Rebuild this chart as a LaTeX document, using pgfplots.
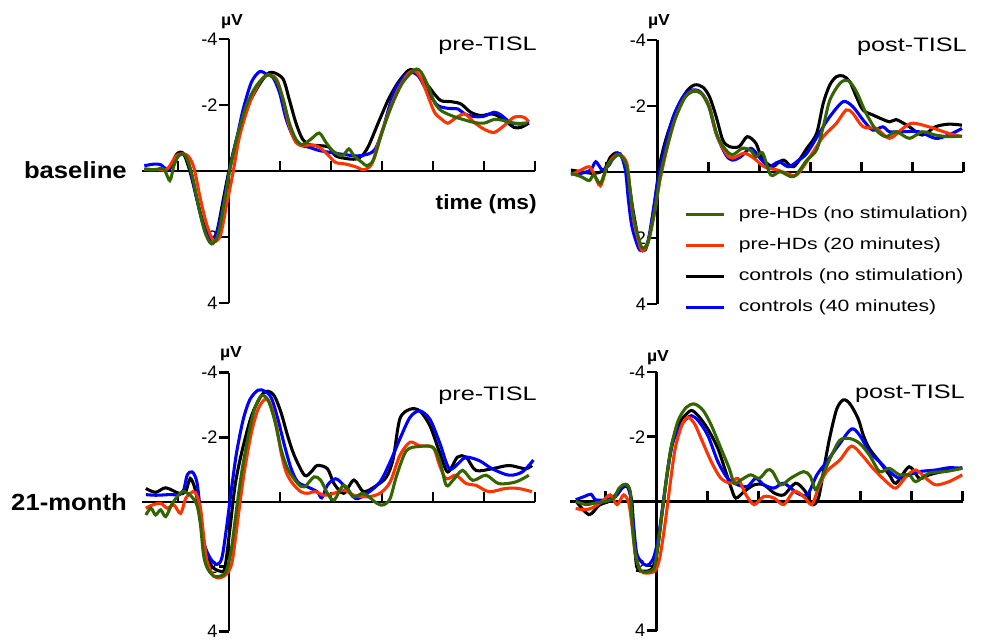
\documentclass[border=0pt]{standalone}
\usepackage{fontspec}
\setmainfont{Liberation Sans}
\newfontfamily\widefont{Liberation Sans}[FakeStretch=1.3]
\newfontfamily\labfont{Liberation Sans}[FakeStretch=1.1]
\usepackage{pgfplots}
\pgfplotsset{compat=1.18}

\newdimen\px \px=0.75pt
\definecolor{cgreen}{RGB}{51,102,0}
\definecolor{cred}{RGB}{255,51,0}
\definecolor{cblue}{RGB}{0,0,255}

\pgfplotsset{
  erp/.style={
    scale only axis, width=294.5pt, height=198pt, anchor=north west,
    xmin=-170, xmax=600, ymin=-4, ymax=4, y dir=reverse,
    axis lines=middle, axis line style={-, line width=2.1pt},
    xtick={-100,100,200,300,400,500,600}, xticklabels={},
    ytick={-4,-2,2,4}, yticklabels={-4,-2,2,4},
    tick style={line width=2.1pt, black},
    tick align=outside, major tick length=7.5pt,
    yticklabel style={font=\fontsize{13.6}{15}\selectfont, inner sep=1pt, text depth=0pt},
    every axis plot/.append style={line width=2.3pt, smooth, tension=0.5},
  },
}

\begin{document}
\begin{tikzpicture}
\useasboundingbox (0,0) rectangle (986\px,-640\px);

% ---------- baseline, pre-TISL ----------
\begin{axis}[erp, at={(142.3\px,-39\px)}]
\addplot[black] coordinates {(-166,-0.06) (-121,-0.06) (-102,-0.52) (-89,-0.52) (-76,0.04) (-63,0.85) (-53,1.45) (-40,2.01) (-34,2.06) (-24,1.86) (-11,0.85) (0,-0.01) (15,-0.97) (34,-1.88) (54,-2.48) (73,-2.91) (86,-2.99) (106,-2.79) (118,-2.18) (131,-1.47) (144,-0.97) (157,-0.80) (177,-0.77) (196,-0.72) (209,-0.46) (229,-0.38) (248,-0.36) (261,-0.46) (274,-0.77) (293,-1.47) (313,-2.18) (332,-2.69) (351,-3.04) (361,-3.06) (371,-2.89) (390,-2.59) (403,-2.33) (416,-2.13) (436,-2.10) (455,-2.03) (474,-1.78) (494,-1.68) (513,-1.73) (526,-1.68) (546,-1.47) (559,-1.32) (572,-1.32) (588,-1.45)};
\addplot[cblue] coordinates {(-166,-0.16) (-147,-0.21) (-134,-0.19) (-121,-0.04) (-111,-0.16) (-98,-0.48) (-85,-0.46) (-76,-0.06) (-63,0.85) (-50,1.66) (-37,2.06) (-27,2.01) (-14,1.25) (0,0.04) (15,-0.97) (28,-1.88) (44,-2.69) (60,-3.01) (73,-2.94) (86,-2.84) (99,-2.38) (112,-1.58) (125,-1.07) (138,-0.80) (157,-0.72) (177,-0.62) (196,-0.57) (216,-0.52) (235,-0.48) (254,-0.46) (274,-0.52) (287,-0.67) (300,-1.17) (313,-1.88) (326,-2.48) (345,-2.89) (358,-2.99) (371,-2.89) (384,-2.54) (397,-2.23) (410,-1.98) (429,-1.90) (449,-1.88) (462,-1.73) (481,-1.65) (500,-1.66) (520,-1.78) (533,-1.70) (552,-1.47) (572,-1.42) (588,-1.47)};
\addplot[cred] coordinates {(-166,-0.04) (-140,-0.04) (-121,-0.06) (-102,-0.48) (-82,-0.48) (-69,-0.11) (-56,0.85) (-43,1.66) (-30,2.11) (-17,1.96) (-5,1.05) (8,0.04) (21,-1.07) (41,-2.08) (60,-2.69) (76,-2.91) (93,-2.79) (106,-2.18) (118,-1.37) (131,-0.87) (144,-0.77) (161,-0.79) (177,-0.72) (196,-0.46) (209,-0.26) (229,-0.21) (248,-0.13) (264,-0.04) (280,-0.21) (293,-0.87) (313,-1.78) (332,-2.48) (351,-2.94) (364,-3.04) (377,-2.79) (390,-2.28) (403,-1.78) (416,-1.58) (429,-1.45) (442,-1.58) (462,-1.73) (481,-1.47) (500,-1.27) (520,-1.17) (539,-1.37) (559,-1.63) (578,-1.63) (588,-1.49)};
\addplot[cgreen] coordinates {(-166,-0.06) (-147,-0.04) (-128,-0.06) (-116,0.29) (-108,-0.16) (-98,-0.48) (-85,-0.46) (-72,0.14) (-60,1.05) (-47,1.86) (-34,2.21) (-21,1.91) (-8,0.85) (2,-0.06) (15,-0.97) (34,-1.98) (54,-2.59) (76,-2.91) (93,-2.74) (106,-2.18) (118,-1.47) (131,-0.97) (144,-0.80) (161,-0.97) (177,-1.15) (190,-0.87) (203,-0.62) (222,-0.46) (235,-0.67) (245,-0.46) (261,-0.26) (271,-0.16) (284,-0.36) (300,-1.17) (319,-1.98) (339,-2.64) (358,-2.99) (368,-3.09) (377,-2.99) (390,-2.59) (403,-2.08) (416,-1.83) (436,-1.68) (455,-1.58) (481,-1.47) (500,-1.45) (520,-1.56) (539,-1.53) (559,-1.45) (584,-1.45)};
\end{axis}

% ---------- baseline, post-TISL ----------
\begin{axis}[erp, at={(570.8\px,-40\px)},
  legend style={draw=none, fill=none, inner sep=0pt, at={(0.288,0.371)}, anchor=north west,
    font=\widefont\fontsize{12.2}{14}\selectfont,
    nodes={text height=9pt, text depth=3pt, inner sep=0pt},
    row sep=11.25pt, column sep=9.75pt},
  legend cell align=left,
  legend image code/.code={\draw[line width=2.3pt,#1] (0pt,0pt) -- (29pt,0pt);}]
\addlegendimage{cgreen}
\addlegendentry{pre-HDs (no stimulation)}
\addlegendimage{cred}
\addlegendentry{pre-HDs (20 minutes)}
\addlegendimage{black}
\addlegendentry{controls (no stimulation)}
\addlegendimage{cblue}
\addlegendentry{controls (40 minutes)}
\addplot[black, forget plot] coordinates {(-170,-0.06) (-150,-0.01) (-125,0.04) (-105,-0.06) (-92,-0.46) (-79,-0.58) (-66,-0.36) (-57,0.24) (-47,1.25) (-34,2.26) (-24,2.36) (-15,1.86) (-5,0.85) (5,-0.26) (18,-1.07) (37,-1.88) (57,-2.44) (73,-2.64) (89,-2.57) (102,-2.28) (115,-1.68) (128,-0.97) (141,-0.77) (160,-0.77) (176,-1.07) (193,-0.87) (205,-0.41) (225,-0.16) (235,-0.26) (248,-0.36) (267,-0.16) (293,-0.72) (312,-1.17) (325,-2.08) (338,-2.64) (351,-2.89) (364,-2.91) (377,-2.74) (390,-2.28) (403,-1.88) (422,-1.73) (455,-1.52) (468,-1.59) (494,-1.37) (519,-1.12) (545,-1.37) (571,-1.45) (597,-1.42)};
\addplot[cblue, forget plot] coordinates {(-170,0.04) (-150,0.04) (-131,-0.06) (-121,-0.31) (-108,-0.06) (-95,-0.21) (-83,-0.52) (-73,-0.55) (-63,-0.06) (-57,0.85) (-50,1.66) (-37,2.31) (-28,2.36) (-18,2.06) (-8,1.15) (2,0.14) (15,-0.77) (31,-1.68) (50,-2.28) (66,-2.48) (83,-2.44) (99,-2.08) (115,-1.17) (134,-0.52) (147,-0.36) (163,-0.46) (183,-0.72) (199,-0.46) (218,-0.16) (238,-0.31) (257,-0.16) (277,-0.36) (293,-0.57) (319,-1.22) (338,-1.68) (364,-2.13) (383,-1.98) (403,-1.58) (422,-1.27) (442,-1.37) (455,-1.22) (481,-1.22) (513,-1.22) (545,-1.02) (571,-1.12) (597,-1.32)};
\addplot[cred, forget plot] coordinates {(-170,0.09) (-150,-0.06) (-134,-0.16) (-125,0.04) (-112,0.42) (-99,-0.16) (-86,-0.46) (-73,-0.52) (-60,-0.26) (-53,0.65) (-47,1.45) (-34,2.26) (-28,2.38) (-18,2.11) (-5,1.15) (5,0.24) (18,-0.67) (34,-1.58) (53,-2.24) (70,-2.46) (86,-2.38) (102,-1.98) (115,-1.17) (134,-0.57) (147,-0.42) (170,-0.57) (189,-0.42) (209,-0.16) (235,-0.06) (254,0.04) (273,0.09) (299,-0.46) (325,-1.07) (351,-1.48) (370,-1.88) (383,-1.78) (403,-1.37) (429,-1.32) (455,-1.02) (481,-1.32) (500,-1.48) (532,-1.37) (571,-1.17) (597,-1.07)};
\addplot[cgreen, forget plot] coordinates {(-170,0.04) (-150,0.14) (-134,0.26) (-125,0.09) (-112,0.34) (-99,-0.16) (-83,-0.46) (-73,-0.52) (-60,-0.16) (-53,0.65) (-46,1.45) (-34,2.16) (-28,2.31) (-18,2.11) (-5,1.15) (5,0.14) (18,-0.72) (34,-1.58) (53,-2.24) (70,-2.44) (86,-2.38) (102,-1.93) (118,-1.07) (134,-0.67) (147,-0.52) (167,-0.72) (183,-0.65) (193,-0.46) (206,-0.58) (222,0.09) (241,-0.01) (267,0.14) (293,-0.36) (312,-0.67) (325,-1.37) (338,-2.18) (358,-2.69) (374,-2.77) (390,-2.44) (409,-1.78) (429,-1.27) (448,-1.07) (468,-1.22) (494,-1.02) (519,-1.22) (545,-1.12) (571,-1.07) (597,-1.09)};
\end{axis}

% ---------- 21-month, pre-TISL ----------
\begin{axis}[erp, height=194pt, at={(142.3\px,-372.7\px)}]
\addplot[black] coordinates {(-163,-0.42) (-144,-0.30) (-124,-0.44) (-98,-0.27) (-85,-0.32) (-76,-0.73) (-66,-0.37) (-56,0.50) (-47,1.42) (-34,1.98) (-17,2.14) (-8,2.03) (2,0.81) (12,-0.52) (25,-1.54) (44,-2.66) (63,-3.28) (76,-3.43) (89,-3.28) (102,-2.77) (115,-2.05) (128,-1.44) (148,-0.83) (161,-0.93) (173,-1.13) (193,-1.03) (206,-0.57) (225,-0.27) (245,-0.68) (264,-0.32) (290,-0.52) (309,-0.78) (322,-1.34) (335,-2.57) (355,-2.87) (374,-2.82) (394,-2.36) (413,-1.54) (429,-0.93) (448,-1.39) (465,-1.39) (484,-0.98) (516,-1.03) (549,-1.13) (581,-1.03) (594,-1.13)};
\addplot[cblue] coordinates {(-163,-0.23) (-144,-0.21) (-118,-0.23) (-92,-0.27) (-82,-0.83) (-72,-0.93) (-63,-0.62) (-56,0.30) (-50,1.22) (-37,1.73) (-24,1.93) (-14,1.73) (-5,0.81) (5,-0.42) (15,-1.54) (28,-2.56) (41,-3.17) (57,-3.46) (70,-3.43) (83,-3.22) (96,-2.56) (109,-1.74) (122,-1.03) (135,-0.62) (154,-0.47) (173,-0.32) (182,-0.13) (193,-0.52) (209,-0.72) (225,-0.52) (248,-0.11) (271,-0.27) (296,-0.62) (316,-1.24) (335,-1.95) (355,-2.62) (374,-2.82) (394,-2.56) (413,-1.84) (432,-1.03) (452,-1.23) (465,-1.39) (491,-1.28) (516,-1.03) (549,-0.83) (575,-0.93) (597,-1.30)};
\addplot[cred] coordinates {(-163,0.19) (-150,0.09) (-134,0.04) (-121,0.19) (-108,0.09) (-95,0.35) (-85,-0.11) (-76,-0.27) (-66,-0.30) (-56,0.19) (-50,1.01) (-43,1.83) (-30,2.29) (-17,2.34) (-5,2.23) (5,1.93) (12,1.21) (21,0.09) (31,-1.03) (44,-2.15) (57,-2.87) (70,-3.17) (80,-3.07) (93,-2.36) (102,-1.54) (112,-0.93) (125,-0.57) (141,-0.32) (154,-0.27) (170,-0.32) (186,-0.21) (206,-0.27) (225,-0.37) (245,-0.21) (271,-0.16) (296,-0.27) (316,-0.62) (335,-1.44) (355,-1.85) (374,-1.74) (400,-1.69) (413,-1.13) (426,-0.72) (445,-0.83) (465,-0.57) (484,-0.52) (510,-0.32) (542,-0.42) (568,-0.42) (594,-0.32)};
\addplot[cgreen] coordinates {(-163,0.40) (-153,0.19) (-144,0.40) (-134,0.24) (-124,0.45) (-111,0.04) (-92,-0.32) (-76,-0.21) (-63,0.09) (-56,0.70) (-50,1.62) (-43,2.03) (-30,2.29) (-17,2.29) (-5,2.13) (5,1.42) (15,0.19) (25,-0.93) (38,-2.05) (50,-2.87) (63,-3.28) (76,-3.17) (89,-2.56) (102,-1.64) (115,-1.03) (135,-0.57) (148,-0.47) (167,-0.78) (180,-0.67) (193,-0.27) (206,-0.06) (225,-0.52) (245,-0.16) (264,-0.27) (290,0.04) (303,0.09) (316,-0.11) (329,-0.83) (348,-1.59) (374,-1.72) (400,-1.69) (413,-1.29) (426,-0.52) (439,-0.67) (458,-0.98) (478,-0.67) (504,-0.83) (529,-0.57) (562,-0.62) (588,-0.83)};
\end{axis}

% ---------- 21-month, post-TISL ----------
\begin{axis}[erp, height=194pt, at={(570.1\px,-372\px)}]
\addplot[black] coordinates {(-159,-0.02) (-133,0.41) (-113,0.12) (-94,0.00) (-81,-0.20) (-68,-0.41) (-58,-0.46) (-49,0.00) (-45,1.02) (-39,2.04) (-26,2.16) (-10,2.09) (0,1.63) (10,0.41) (19,-0.71) (29,-1.73) (42,-2.35) (55,-2.65) (68,-2.81) (81,-2.65) (100,-2.24) (120,-1.63) (133,-1.02) (146,-0.41) (155,-0.10) (172,-0.31) (191,-0.51) (210,-0.51) (230,-0.26) (249,-0.20) (272,-0.56) (291,-0.31) (304,0.10) (317,-0.10) (330,-1.22) (340,-2.04) (353,-2.86) (366,-3.14) (379,-3.01) (395,-2.55) (405,-2.04) (417,-1.63) (437,-1.22) (456,-0.82) (469,-0.56) (495,-1.07) (515,-0.71) (534,-0.82) (560,-0.92) (599,-1.04)};
\addplot[cblue] coordinates {(-159,-0.05) (-142,-0.15) (-129,-0.22) (-120,-0.05) (-100,-0.05) (-81,-0.15) (-68,-0.41) (-58,-0.51) (-52,-0.20) (-45,0.82) (-39,1.63) (-26,1.94) (-16,1.96) (-6,1.73) (3,1.12) (13,0.00) (23,-1.12) (32,-1.84) (45,-2.30) (58,-2.55) (68,-2.65) (81,-2.50) (100,-2.04) (120,-1.22) (139,-0.71) (159,-0.51) (178,-0.46) (194,-0.71) (210,-0.51) (230,-0.41) (249,-0.56) (275,-0.26) (295,-0.20) (314,-0.82) (333,-1.22) (359,-1.79) (382,-2.24) (398,-2.04) (417,-1.53) (437,-1.22) (456,-0.92) (476,-0.71) (495,-0.82) (515,-0.92) (547,-0.97) (573,-1.04) (599,-1.02)};
\addplot[cred] coordinates {(-159,0.22) (-142,0.26) (-126,0.20) (-107,0.00) (-91,-0.20) (-78,0.10) (-65,-0.20) (-55,0.05) (-49,0.71) (-42,1.63) (-32,2.14) (-19,2.22) (-3,2.14) (6,1.73) (16,0.71) (26,-0.51) (36,-1.63) (49,-2.35) (61,-2.60) (74,-2.40) (87,-1.94) (107,-1.22) (126,-0.71) (146,-0.56) (159,-0.71) (175,-0.20) (191,0.10) (210,-0.15) (230,-0.10) (249,0.10) (269,-0.31) (288,-0.15) (304,0.10) (317,-0.41) (333,-0.92) (359,-1.28) (382,-1.71) (405,-1.38) (424,-1.02) (450,-0.61) (469,-0.41) (489,-0.77) (508,-0.97) (528,-0.71) (547,-0.51) (573,-0.61) (599,-0.82)};
\addplot[cgreen] coordinates {(-159,0.00) (-139,0.10) (-120,0.05) (-100,0.00) (-84,-0.10) (-74,-0.41) (-61,-0.53) (-52,-0.31) (-49,0.51) (-42,1.63) (-32,2.14) (-19,2.19) (-6,2.09) (0,1.63) (10,0.41) (19,-0.71) (29,-1.73) (42,-2.50) (58,-2.91) (74,-3.01) (91,-2.81) (107,-2.35) (126,-1.63) (142,-1.02) (152,-0.56) (165,-0.66) (184,-0.82) (201,-0.71) (217,-0.97) (227,-0.92) (243,-0.51) (262,-0.71) (288,-0.92) (301,-0.77) (311,-0.36) (320,-0.61) (340,-1.33) (359,-1.89) (379,-1.94) (398,-1.79) (417,-1.43) (437,-0.92) (456,-1.02) (476,-0.82) (495,-0.82) (508,-0.61) (534,-0.87) (566,-0.92) (599,-1.02)};
\end{axis}

% ---------- texts ----------
\node[anchor=base east, font=\widefont\fontsize{14.6}{17}\selectfont, inner sep=0pt] at (537\px,-50\px) {pre-TISL};
\node[anchor=base east, font=\widefont\fontsize{14.6}{17}\selectfont, inner sep=0pt] at (967\px,-51\px) {post-TISL};
\node[anchor=base east, font=\widefont\fontsize{14.6}{17}\selectfont, inner sep=0pt] at (537\px,-400\px) {pre-TISL};
\node[anchor=base east, font=\widefont\fontsize{14.6}{17}\selectfont, inner sep=0pt] at (965\px,-398\px) {post-TISL};
\node[anchor=base east, font=\labfont\bfseries\fontsize{15.5}{18}\selectfont, inner sep=0pt] at (537\px,-209\px) {time (ms)};
\node[anchor=base east, font=\labfont\bfseries\fontsize{17.5}{20}\selectfont, inner sep=0pt] at (127\px,-178\px) {baseline};
\node[anchor=base east, font=\labfont\bfseries\fontsize{17.5}{20}\selectfont, inner sep=0pt] at (127\px,-510\px) {21-month};
\node[anchor=base, font=\labfont\bfseries\fontsize{12}{14}\selectfont, inner sep=0pt] at (232\px,-25\px) {µV};
\node[anchor=base, font=\labfont\bfseries\fontsize{12}{14}\selectfont, inner sep=0pt] at (659\px,-25\px) {µV};
\node[anchor=base, font=\labfont\bfseries\fontsize{12}{14}\selectfont, inner sep=0pt] at (231\px,-357\px) {µV};
\node[anchor=base, font=\labfont\bfseries\fontsize{12}{14}\selectfont, inner sep=0pt] at (658\px,-361\px) {µV};
\end{tikzpicture}
\end{document}
